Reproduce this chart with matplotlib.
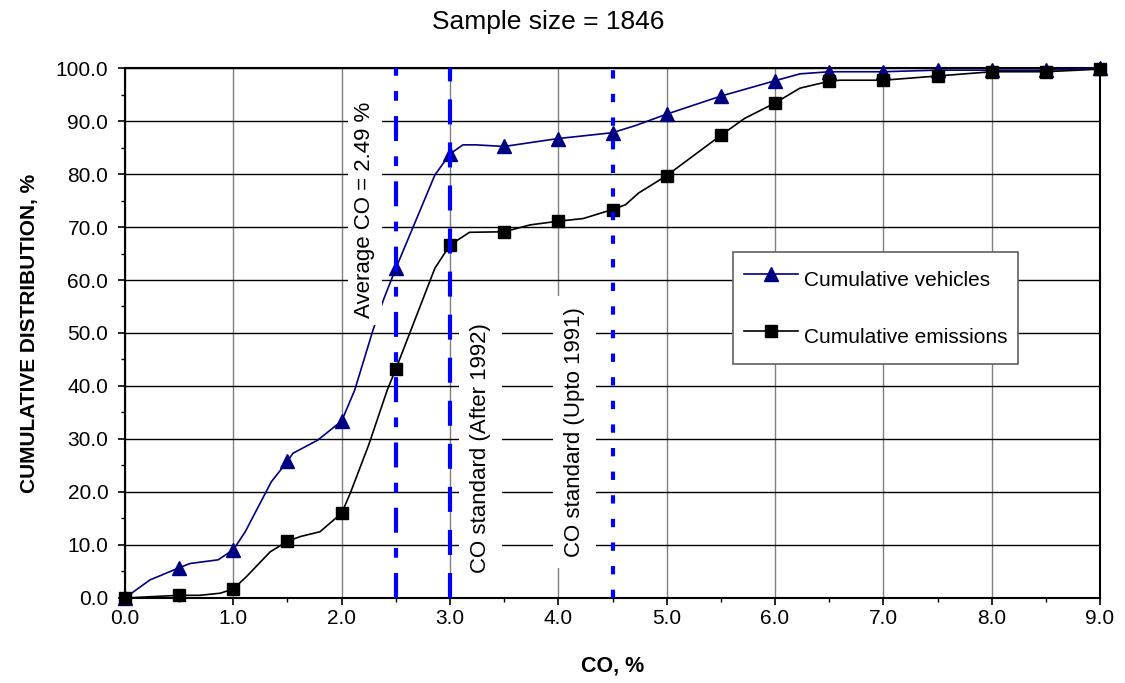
import numpy as np
import matplotlib
matplotlib.use("Agg")
import matplotlib.pyplot as plt
from matplotlib.ticker import MultipleLocator, FormatStrFormatter

plt.rcParams['font.family'] = ['Liberation Sans', 'DejaVu Sans']
plt.rcParams['lines.scale_dashes'] = False

# cumulative distribution curves, CO %
vehicles_co = [0, 0.23, 0.5, 0.6, 0.86, 1.0, 1.11, 1.35, 1.5, 1.55, 1.78, 2.0, 2.12, 2.29, 2.39,
               2.5, 2.86, 3.0, 3.12, 3.24, 3.5, 4.0, 4.23, 4.5, 4.72, 5.0, 5.5, 6.0, 6.23, 6.5,
               7.0, 7.5, 8.0, 8.5, 9.0]
vehicles_pct = [0, 3.4, 5.7, 6.5, 7.2, 9.1, 12.5, 21.9, 25.8, 27.3, 29.8, 33.4, 39.2, 50.6, 56.5,
                62.2, 79.8, 83.8, 85.5, 85.5, 85.2, 86.7, 87.2, 87.8, 89.2, 91.3, 94.7, 97.6, 98.9, 99.3,
                99.3, 99.6, 99.6, 99.6, 100.0]

emissions_co = [0, 0.5, 0.69, 0.88, 1.0, 1.12, 1.34, 1.5, 1.62, 1.8, 2.0, 2.08, 2.25, 2.42, 2.5,
                2.86, 3.0, 3.18, 3.5, 3.74, 4.0, 4.23, 4.5, 4.62, 4.74, 5.0, 5.5, 5.72, 6.0, 6.23,
                6.5, 6.6, 7.0, 7.5, 8.0, 8.5, 9.0]
emissions_pct = [0, 0.5, 0.5, 0.9, 1.7, 4.0, 8.7, 10.7, 11.6, 12.5, 16.0, 19.8, 28.9, 39.2, 43.2,
                 62.2, 66.6, 69.0, 69.1, 70.4, 71.1, 71.6, 73.3, 74.2, 76.4, 79.7, 87.3, 90.5, 93.4, 96.2,
                 97.5, 97.7, 97.7, 98.5, 99.3, 99.3, 99.8]

# class boundaries that carry a marker
marker_co = [0.0, 0.5, 1.0, 1.5, 2.0, 2.5, 3.0, 3.5, 4.0, 4.5, 5.0, 5.5, 6.0, 6.5, 7.0, 7.5, 8.0, 8.5, 9.0]

average_co = 2.5
standard_after_1992 = 3.0
standard_upto_1991 = 4.5
sample_size = 1846

fig = plt.figure(figsize=(11.25, 6.83), dpi=100)
ax = fig.add_axes([0.1111, 0.1245, 0.8667, 0.7759])

vmask = np.isin(vehicles_co, marker_co)
emask = np.isin(emissions_co, marker_co)

ax.plot(vehicles_co, vehicles_pct, color='#000080', lw=1.2, marker='^', markersize=10,
        markevery=list(np.where(vmask)[0]), zorder=3, label='Cumulative vehicles', clip_on=False)
ax.plot(emissions_co, emissions_pct, color='black', lw=1.2, marker='s', markersize=9,
        markevery=list(np.where(emask)[0]), zorder=3, label='Cumulative emissions', clip_on=False)

ax.axvline(average_co, color='#0000ff', lw=3, ls=(0, (18, 11, 7, 11)), zorder=5)
ax.axvline(standard_after_1992, color='#0000ff', lw=3, ls=(0, (18, 13)), zorder=5)
ax.axvline(standard_upto_1991, color='#0000ff', lw=3, ls=(0, (6, 11)), zorder=5)

box = dict(boxstyle='square,pad=0.3', facecolor='white', edgecolor='none')
ax.text(2.215, 73.2, 'Average CO = 2.49 %', rotation=90, ha='center', va='center',
        fontsize=16, bbox=box, zorder=4)
box2 = dict(boxstyle='square,pad=0.5', facecolor='white', edgecolor='none')
ax.text(3.28, 28.3, 'CO standard (After 1992)', rotation=90, ha='center', va='center',
        fontsize=16, bbox=box2, zorder=4)
ax.text(4.15, 31.3, 'CO standard (Upto 1991)', rotation=90, ha='center', va='center',
        fontsize=16, bbox=box2, zorder=4)

ax.set_xlim(0, 9)
ax.set_ylim(0, 100)
ax.xaxis.set_major_locator(MultipleLocator(1))
ax.xaxis.set_minor_locator(MultipleLocator(0.5))
ax.yaxis.set_major_locator(MultipleLocator(10))
ax.yaxis.set_minor_locator(MultipleLocator(5))
ax.xaxis.set_major_formatter(FormatStrFormatter('%.1f'))
ax.yaxis.set_major_formatter(FormatStrFormatter('%.1f'))
ax.tick_params(axis='both', which='major', direction='out', length=5, width=1.2, labelsize=15)
ax.tick_params(axis='both', which='minor', direction='out', length=3, width=1.0)
ax.tick_params(axis='y', which='major', pad=7)
ax.tick_params(axis='x', which='major', pad=3)

ax.grid(axis='x', which='major', color='#808080', lw=1.0, zorder=0)
ax.grid(axis='y', which='major', color='black', lw=1.0, zorder=0)
ax.set_axisbelow(True)
for sp in ax.spines.values():
    sp.set_linewidth(1.5)
    sp.set_color('black')

ax.set_xlabel('CO, %', fontsize=15.5, fontweight='bold', labelpad=20)
ax.set_ylabel('CUMULATIVE DISTRIBUTION, %', fontsize=15, fontweight='bold', labelpad=12)
fig.text(0.4875, 0.968, f'Sample size = {sample_size}', ha='center', va='center', fontsize=19)

leg = ax.legend(loc='upper left', bbox_to_anchor=(0.624, 0.653), fontsize=15, frameon=True,
                fancybox=False, edgecolor='#606060', framealpha=1, labelspacing=1.05,
                handleheight=2.2, handlelength=2.6, handletextpad=0.3, borderpad=0.5,
                borderaxespad=0)
leg.get_frame().set_linewidth(1.2)
leg.set_zorder(6)

fig.savefig('out.png', dpi=100)
